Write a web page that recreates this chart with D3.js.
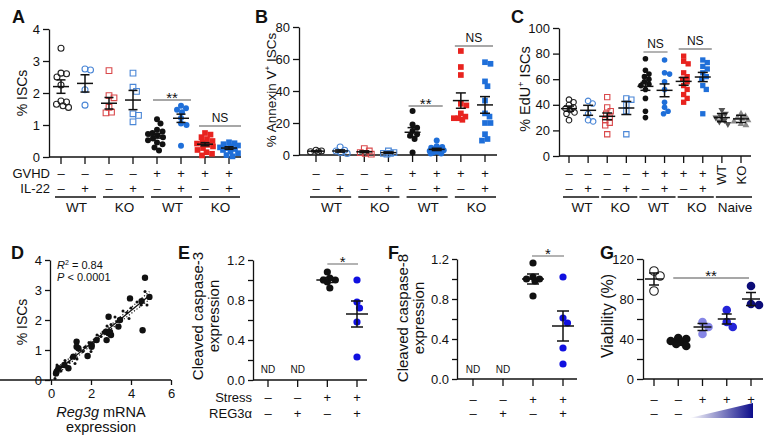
<!DOCTYPE html>
<meta charset="utf-8">
<head>
  <title>ISC panels</title>
</head>
<style>
body { margin: 0; background: #fff; }
svg text { font-family: "Liberation Sans", Arial, Helvetica, sans-serif; fill: #111; }
</style>
<body>
<svg id="chart" width="767" height="446"></svg>
<script src="https://cdnjs.cloudflare.com/ajax/libs/d3/7.8.5/d3.min.js"></script>
<script type="text/javascript">
// ---- data ----
// A: % ISCs
var aValues = [
  [3.4, 2.6, 2.62, 2.5, 2.25, 1.75, 1.72, 1.65, 1.6, 1.55],
  [2.72, 2.75, 2.1, 1.62],
  [2.7, 1.92, 1.85, 1.55, 1.4, 1.38],
  [2.62, 2.18, 2.05, 1.35, 1.3, 1.1],
  [1.18, 1.05, 0.85, 0.8, 0.75, 0.72, 0.68, 0.62, 0.58, 0.52, 0.45, 0.4, 0.3, 0.2],
  [1.6, 1.52, 1.48, 1.4, 1.22, 1.05, 1.0, 0.35],
  [0.75, 0.7, 0.62, 0.56, 0.5, 0.45, 0.42, 0.38, 0.33, 0.28, 0.22, 0.15, 0.1, 0.05],
  [0.46, 0.43, 0.4, 0.36, 0.33, 0.3, 0.28, 0.25, 0.22, 0.18, 0.12, 0.06, 0.02]
];
var aMeans = [2.2, 2.3, 1.68, 1.78, 0.66, 1.21, 0.4, 0.28];
var aSems = [0.21, 0.27, 0.18, 0.3, 0.07, 0.13, 0.05, 0.04];

// B: % Annexin V+ ISCs
var bValues = [
  [2, 2.5, 3, 2],
  [5, 2.5, 1.5, 1, 3],
  [4, 2.5, 1.5, 1, 0.5],
  [2.5, 1.5, 1, 1, 0.5],
  [27.5, 19, 17, 15, 13, 12, 10, 1.5],
  [9, 5.5, 5, 4.5, 4, 3.5, 3, 2.5, 2, 1.5, 1, 1],
  [65, 55, 50, 32, 31, 26, 24, 23, 23, 22],
  [58, 57, 46, 43, 34, 26, 24, 20, 20, 13, 10, 9]
];
var bMeans = [2.4, 2.5, 2, 1.5, 14.2, 3.5, 34, 31.3];
var bSems = [0.3, 0.7, 0.6, 0.4, 2.9, 0.7, 4.8, 5.2];

// C: % EdU+ ISCs
var cValues = [
  [44, 42, 40, 38, 37, 36, 34, 33, 28],
  [43, 41, 33, 28, 27],
  [46, 38, 35, 33, 30, 28, 26, 24, 17],
  [45, 44, 40, 35, 17],
  [76, 67, 64, 62, 60, 58, 56, 55, 52, 45, 35, 30],
  [75, 65, 64, 58, 52, 42, 38, 35, 33],
  [78, 74, 72, 65, 62, 60, 58, 55, 52, 48, 45, 42],
  [75, 73, 70, 68, 65, 62, 60, 55, 52, 33],
  [36, 33, 31, 30, 28, 27, 25],
  [33, 31, 30, 29, 28, 27, 25, 24]
];
var cMeans = [37, 35.7, 31, 37.5, 54.4, 51.3, 58.3, 61.7, 30, 29];
var cSems = [2, 3.9, 2.6, 5.1, 3.1, 5, 3, 3.6, 3.2, 2.8];

// D: Reg3g expression vs % ISCs
var dLargePts = [[4.7, 3.41], [4.92, 2.77], [3.95, 2.72], [4.53, 2.63], [2.88, 2.11], [4.58, 1.66],
  [3.37, 1.78], [3.45, 2.0], [2.75, 1.61], [2.88, 1.56], [2.78, 1.33], [2.28, 1.33], [2.03, 1.17],
  [2.03, 1.11], [1.83, 0.8], [1.28, 1.28], [1.28, 1.11], [1.37, 1.06], [1.12, 0.78], [0.87, 0.39],
  [0.67, 0.5], [0.37, 0.39], [0.28, 0.28], [0.25, 0.22], [3.0, 1.5], [2.95, 1.6]];
var dSmallPts = [[4.7, 2.95], [4.5, 2.5], [4.3, 2.6], [4.0, 2.4], [3.8, 2.25], [3.6, 2.3], [3.3, 1.95],
  [3.2, 2.1], [3.0, 1.85], [2.8, 1.8], [2.6, 1.6], [2.5, 1.45], [2.3, 1.5], [2.2, 1.3], [1.9, 1.25],
  [1.7, 1.1], [1.6, 0.95], [1.45, 1.0], [1.3, 0.7], [1.0, 0.75], [0.9, 0.6], [0.7, 0.65], [0.55, 0.45],
  [0.5, 0.3], [0.3, 0.5], [0.2, 0.05], [3.9, 2.05], [4.8, 2.5], [2.0, 0.95], [1.2, 0.55]];
var dStats = ["= 0.84", "< 0.0001"];

// E, F: cleaved caspase expression
var eValues = [[], [], [1.08, 1.02, 1.0, 1.0, 0.98, 0.92], [1.0, 0.78, 0.72, 0.58, 0.23]];
var eMeans = [null, null, 1.0, 0.66];
var eSems = [null, null, 0.025, 0.13];
var fValues = [[], [], [1.16, 1.02, 1.0, 1.0, 0.98, 0.83], [1.02, 0.61, 0.56, 0.31, 0.15]];
var fMeans = [null, null, 1.0, 0.53];
var fSems = [null, null, 0.05, 0.15];

// G: viability
var gValues = [[108, 103, 88], [41, 40, 38, 37, 35, 33], [57, 52, 45], [69, 57, 52], [93, 75, 74]];
var gMeans = [100, 38, 52, 60, 80];
var gSems = [6, 1.2, 3.5, 5, 6.5];

// row signs and labels
var gvhdSigns = ["–", "–", "–", "–", "+", "+", "+", "+"];
var il22Signs = ["–", "+", "–", "+", "–", "+", "–", "+"];
var abcGroupLabels = ["WT", "KO", "WT", "KO"];
var naiveLabels = ["WT", "KO"];
var stressSigns = ["–", "–", "+", "+"];
var regSigns = ["–", "+", "–", "+"];
var gSigns = ["–", "–", "+", "+", "+"];

// ---- styles ----
var BLK = "#111", BLUE = "#1f6fd9", RED = "#e8231f";
var abStyle = [
  {shape: "circle", fill: "none", stroke: "#222"},
  {shape: "circle", fill: "none", stroke: "#4a86d6"},
  {shape: "square", fill: "none", stroke: "#d9484a"},
  {shape: "square", fill: "none", stroke: "#4a86d6"},
  {shape: "circle", fill: BLK, stroke: "none"},
  {shape: "circle", fill: BLUE, stroke: "none"},
  {shape: "square", fill: RED, stroke: "none"},
  {shape: "square", fill: BLUE, stroke: "none"}
];
var cStyle = abStyle.concat([
  {shape: "triDown", fill: "#555", stroke: "none"},
  {shape: "triUp", fill: "#8a8a8a", stroke: "none"}
]);
var efStyle = [null, null, {shape: "circle", fill: BLK, stroke: "none"}, {shape: "circle", fill: "#1010e0", stroke: "none"}];
var gStyle = [
  {shape: "circle", fill: "none", stroke: "#222"},
  {shape: "circle", fill: BLK, stroke: "none"},
  {shape: "circle", fill: "#8585e6", stroke: "none"},
  {shape: "circle", fill: "#2424d8", stroke: "none"},
  {shape: "circle", fill: "#0c0c78", stroke: "none"}
];

var svg = d3.select("#chart");

function marker(shape, r) {
  if (shape === "circle") return d3.symbol(d3.symbolCircle, Math.PI * r * r)();
  if (shape === "square") return d3.symbol(d3.symbolSquare, 3.6 * r * r)();
  return d3.symbol(d3.symbolTriangle, 2.6 * r * r)();
}

// simple deterministic beeswarm: push each point sideways until it clears the others,
// but never further than maxW from the centre (then take the least crowded spot)
function swarm(vals, y, r, maxW) {
  var placed = [];
  var minD = 1.8 * r;
  vals.slice().sort(d3.descending).forEach(function(v) {
    var py = y(v), best = 0, bestD = -1;
    for (var k = 0; k < 400; k++) {
      var dx = (k % 2 ? 1 : -1) * Math.ceil(k / 2) * 0.5;
      if (Math.abs(dx) > maxW) break;
      var md = Infinity;
      placed.forEach(function(q) {
        var ddx = q.dx - dx, ddy = q.py - py;
        md = Math.min(md, Math.sqrt(ddx * ddx + ddy * ddy));
      });
      if (md >= minD) { best = dx; break; }
      if (md > bestD) { bestD = md; best = dx; }
    }
    placed.push({dx: best, py: py});
  });
  return placed;
}

function label(txt, x, y, size, opts) {
  opts = opts || {};
  return svg.append("text").attr("x", x).attr("y", y)
    .attr("font-size", size)
    .attr("text-anchor", opts.anchor || "middle")
    .attr("font-weight", opts.bold ? "bold" : null)
    .text(txt);
}

function rotLabel(parts, cx, cy, size) {
  var t = svg.append("text")
    .attr("transform", "translate(" + cx + "," + cy + ") rotate(-90)")
    .attr("text-anchor", "middle").attr("dy", "0.35em")
    .attr("font-size", size);
  parts.forEach(function(p) {
    var s = t.append("tspan").text(p.t);
    if (p.sup) s.attr("font-size", size * 0.6).attr("dy", -size * 0.4);
    if (p.down) s.attr("dy", size * 0.4);
    if (p.it) s.attr("font-style", "italic");
  });
  return t;
}

function styleAxis(sel, fs) {
  sel.selectAll("path, line").attr("stroke", "#111").attr("stroke-width", 1.3);
  sel.selectAll("text").attr("font-size", fs).attr("fill", "#111")
    .attr("font-family", '"Liberation Sans", Arial, sans-serif');
}

function dotPanel(p) {
  var g = svg.append("g");
  var n = p.values.length;
  var x = d3.scaleLinear().domain([0, n - 1]).range(p.xr);
  var y = d3.scaleLinear().domain(p.yd).range(p.yr);
  var base = y(p.yd[0]);

  var ya = d3.axisLeft(y).tickValues(p.ticks).tickSize(p.tickLen || 6).tickSizeOuter(0)
    .tickPadding(p.tickPad || 3)
    .tickFormat(function(d) { return p.labelled.indexOf(d) >= 0 ? p.fmt(d) : ""; });
  var yg = g.append("g").attr("transform", "translate(" + p.ax + ",0)").call(ya);
  styleAxis(yg, 13);

  g.append("line").attr("x1", p.ax).attr("x2", p.xEnd).attr("y1", base).attr("y2", base)
    .attr("stroke", "#111").attr("stroke-width", 1.3);
  g.selectAll(".xt").data(d3.range(n)).enter().append("line")
    .attr("x1", x).attr("x2", x).attr("y1", base).attr("y2", base + 7)
    .attr("stroke", "#111").attr("stroke-width", 1.3);

  p.values.forEach(function(vals, i) {
    var st = p.style[i];
    if (!vals.length) return;
    swarm(vals, y, p.r, p.maxW).forEach(function(pt) {
      g.append("path").attr("d", marker(st.shape, p.r))
        .attr("transform", "translate(" + (x(i) + pt.dx) + "," + pt.py + ")" + (st.shape === "triDown" ? " rotate(180)" : ""))
        .attr("fill", st.fill).attr("stroke", st.stroke === "none" ? null : st.stroke)
        .attr("stroke-width", 1.1);
    });
  });

  p.means.forEach(function(m, i) {
    if (m === null) return;
    var s = p.sems[i], cx = x(i);
    var lines = [
      [cx - p.mh, y(m), cx + p.mh, y(m)],
      [cx, y(m - s), cx, y(m + s)],
      [cx - p.ch, y(m - s), cx + p.ch, y(m - s)],
      [cx - p.ch, y(m + s), cx + p.ch, y(m + s)]
    ];
    lines.forEach(function(l) {
      g.append("line").attr("x1", l[0]).attr("y1", l[1]).attr("x2", l[2]).attr("y2", l[3])
        .attr("stroke", "#111").attr("stroke-width", 1.5);
    });
  });

  (p.sig || []).forEach(function(s) {
    var x1 = x(s.a) + s.l, x2 = x(s.b) + s.r;
    g.append("line").attr("x1", x1).attr("x2", x2).attr("y1", s.y).attr("y2", s.y)
      .attr("stroke", "#8a8a8a").attr("stroke-width", 1.3);
    if (s.t === "NS") label("NS", (x1 + x2) / 2, s.y - 4, 12);
    else label(s.t, (x1 + x2) / 2, s.y + 3, 15);
  });

  (p.rows || []).forEach(function(row) {
    row.signs.forEach(function(sg, i) {
      label(sg, x(i), row.y + 4.5, 13);
    });
    if (row.label) label(row.label, row.lx, row.y + 4.5, 13, {anchor: "end"});
  });

  (p.groups || []).forEach(function(gr) {
    var x1 = x(gr.a) - 6, x2 = x(gr.b) + 11;
    g.append("line").attr("x1", x1).attr("x2", x2).attr("y1", p.barY).attr("y2", p.barY)
      .attr("stroke", "#111").attr("stroke-width", 1.3);
    label(gr.t, (x1 + x2) / 2 + 1, p.barY + 15, 13.5);
  });
  return {x: x, y: y};
}

var fmt0 = d3.format("d"), fmt1 = d3.format(".1f");

// ---- A ----
dotPanel({
  values: aValues, means: aMeans, sems: aSems, style: abStyle,
  xr: [61, 229], yd: [0, 4], yr: [157, 29], ax: 49, xEnd: 241,
  ticks: [0, 1, 2, 3, 4], labelled: [0, 1, 2, 3, 4], fmt: fmt0,
  r: 3, mh: 8, ch: 4.5, maxW: 9,
  sig: [{a: 4, b: 5, l: -4, r: 10, y: 100, t: "**"}, {a: 6, b: 7, l: -6, r: 12, y: 126, t: "NS"}],
  rows: [{signs: gvhdSigns, y: 173, label: "GVHD", lx: 50}, {signs: il22Signs, y: 188, label: "IL-22", lx: 50}],
  barY: 197,
  groups: [{a: 0, b: 1, t: abcGroupLabels[0]}, {a: 2, b: 3, t: abcGroupLabels[1]}, {a: 4, b: 5, t: abcGroupLabels[2]}, {a: 6, b: 7, t: abcGroupLabels[3]}]
});
label("A", 12, 23, 18, {anchor: "start", bold: true});
rotLabel([{t: "% ISCs"}], 22, 93, 14);

// ---- B ----
dotPanel({
  values: bValues, means: bMeans, sems: bSems, style: abStyle,
  xr: [316, 485], yd: [0, 80], yr: [155, 27], ax: 299, xEnd: 497,
  ticks: [0, 20, 40, 60, 80], labelled: [0, 20, 40, 60, 80], fmt: fmt0,
  r: 3, mh: 8, ch: 5, maxW: 7,
  sig: [{a: 4, b: 5, l: -4, r: 6, y: 106, t: "**"}, {a: 6, b: 7, l: -6, r: 8, y: 46, t: "NS"}],
  rows: [{signs: gvhdSigns, y: 173}, {signs: il22Signs, y: 188}],
  barY: 197,
  groups: [{a: 0, b: 1, t: abcGroupLabels[0]}, {a: 2, b: 3, t: abcGroupLabels[1]}, {a: 4, b: 5, t: abcGroupLabels[2]}, {a: 6, b: 7, t: abcGroupLabels[3]}]
});
label("B", 255, 23, 18, {anchor: "start", bold: true});
rotLabel([{t: "% Annexin V"}, {t: "+", sup: true}, {t: " ISCs", down: true}], 271, 90, 13.5);

// ---- C ----
var cx = dotPanel({
  values: cValues, means: cMeans, sems: cSems, style: cStyle,
  xr: [569, 741], yd: [0, 100], yr: [156, 28], ax: 559, xEnd: 751,
  ticks: [0, 20, 40, 60, 80, 100], labelled: [0, 20, 40, 60, 80, 100], fmt: fmt0,
  r: 2.8, mh: 8, ch: 5, maxW: 7,
  sig: [{a: 4, b: 5, l: -2, r: 3, y: 52, t: "NS"}, {a: 6, b: 7, l: -5, r: 9, y: 49, t: "NS"}],
  rows: [{signs: gvhdSigns, y: 173}, {signs: il22Signs, y: 188}],
  barY: 197,
  groups: [{a: 0, b: 1, t: abcGroupLabels[0]}, {a: 2, b: 3, t: abcGroupLabels[1]}, {a: 4, b: 5, t: abcGroupLabels[2]}, {a: 6, b: 7, t: abcGroupLabels[3]}, {a: 8, b: 9, t: "Naive"}]
}).x;
naiveLabels.forEach(function(t, i) { rotLabel([{t: t}], cx(8 + i), 175, 13); });
label("C", 511, 23, 18, {anchor: "start", bold: true});
rotLabel([{t: "% EdU"}, {t: "+", sup: true}, {t: " ISCs", down: true}], 525, 89, 14.5);

// ---- D ----
(function() {
  var x = d3.scaleLinear().domain([0, 6]).range([51, 171]);
  var y = d3.scaleLinear().domain([0, 4]).range([380, 260]);
  var g = svg.append("g");
  var ya = g.append("g").attr("transform", "translate(50,0)")
    .call(d3.axisLeft(y).ticks(4).tickSize(5).tickSizeOuter(0).tickPadding(3).tickFormat(fmt0));
  var xa = g.append("g").attr("transform", "translate(0,380)")
    .call(d3.axisBottom(x).tickValues([0, 2, 4, 6]).tickSize(5).tickSizeOuter(0).tickPadding(4).tickFormat(fmt0));
  styleAxis(ya, 13); styleAxis(xa, 13);
  xa.select(".domain").attr("d", "M-1,0H171");

  var all = dLargePts.concat(dSmallPts);
  var n = all.length;
  var mx = d3.mean(all, function(d) { return d[0]; }), my = d3.mean(all, function(d) { return d[1]; });
  var sxx = d3.sum(all, function(d) { return (d[0] - mx) * (d[0] - mx); });
  var sxy = d3.sum(all, function(d) { return (d[0] - mx) * (d[1] - my); });
  var b = sxy / sxx, a = my - b * mx;
  var s = Math.sqrt(d3.sum(all, function(d) { var e = d[1] - a - b * d[0]; return e * e; }) / (n - 2));
  var xmin = d3.min(all, function(d) { return d[0]; }), xmax = d3.max(all, function(d) { return d[0]; });
  var xs = d3.range(0, 41).map(function(k) { return xmin + (xmax - xmin) * k / 40; });
  function ci(xv) { return 2.0 * s * Math.sqrt(1 / n + (xv - mx) * (xv - mx) / sxx); }
  [-1, 1].forEach(function(sgn) {
    g.append("path")
      .attr("d", d3.line().x(function(v) { return x(v); }).y(function(v) { return y(a + b * v + sgn * ci(v)); })(xs))
      .attr("fill", "none").attr("stroke", "#111").attr("stroke-width", 1.2).attr("stroke-dasharray", "1.2,2");
  });
  g.selectAll(".sm").data(dSmallPts).enter().append("circle")
    .attr("cx", function(d) { return x(d[0]); }).attr("cy", function(d) { return y(d[1]); })
    .attr("r", 1.5).attr("fill", "#111");
  g.selectAll(".lg").data(dLargePts).enter().append("circle")
    .attr("cx", function(d) { return x(d[0]); }).attr("cy", function(d) { return y(d[1]); })
    .attr("r", 3.2).attr("fill", "#111");
  g.append("line").attr("x1", x(xmin)).attr("y1", y(a + b * xmin)).attr("x2", x(xmax)).attr("y2", y(a + b * xmax))
    .attr("stroke", "#111").attr("stroke-width", 1.3);

  var t1 = svg.append("text").attr("x", 57).attr("y", 269).attr("font-size", 11);
  t1.append("tspan").attr("font-style", "italic").text("R");
  t1.append("tspan").attr("font-size", 7).attr("dy", -4).text("2");
  t1.append("tspan").attr("dy", 4).text(" " + dStats[0]);
  var t2 = svg.append("text").attr("x", 57).attr("y", 281).attr("font-size", 11);
  t2.append("tspan").attr("font-style", "italic").text("P");
  t2.append("tspan").text(" " + dStats[1]);

  var xl = svg.append("text").attr("x", 101).attr("y", 417).attr("text-anchor", "middle").attr("font-size", 14.5);
  xl.append("tspan").attr("font-style", "italic").text("Reg3g");
  xl.append("tspan").text(" mRNA");
  label("expression", 101, 432, 14.5);
  rotLabel([{t: "% ISCs"}], 22, 322, 14);
  label("D", 11, 259, 18, {anchor: "start", bold: true});
})();

// ---- E ----
var ex = dotPanel({
  values: eValues, means: eMeans, sems: eSems, style: efStyle,
  xr: [268, 357], yd: [0, 1.2], yr: [380, 260], ax: 253, xEnd: 367,
  ticks: [0, 0.2, 0.4, 0.6, 0.8, 1, 1.2], labelled: [0, 0.4, 0.8, 1.2], fmt: fmt1,
  tickLen: 5, tickPad: 3,
  r: 3.6, mh: 11, ch: 6, maxW: 8,
  sig: [{a: 2, b: 3, l: 0, r: 1, y: 264, t: "*"}],
  rows: [{signs: stressSigns, y: 397, label: "Stress", lx: 252}, {signs: regSigns, y: 413, label: "REG3α", lx: 252}]
}).x;
[0, 1].forEach(function(i) { label("ND", ex(i), 373, 10); });
label("E", 178, 259, 18, {anchor: "start", bold: true});
rotLabel([{t: "Cleaved caspase-3"}], 198, 316, 15);
rotLabel([{t: "expression"}], 214, 316, 15);

// ---- F ----
var fx = dotPanel({
  values: fValues, means: fMeans, sems: fSems, style: efStyle,
  xr: [473, 563], yd: [0, 1.2], yr: [379, 259], ax: 457, xEnd: 577,
  ticks: [0, 0.2, 0.4, 0.6, 0.8, 1, 1.2], labelled: [0, 0.4, 0.8, 1.2], fmt: fmt1,
  tickLen: 5, tickPad: 3,
  r: 3.6, mh: 11, ch: 6, maxW: 8,
  sig: [{a: 2, b: 3, l: -1, r: 1, y: 256, t: "*"}],
  rows: [{signs: stressSigns, y: 399}, {signs: regSigns, y: 413}]
}).x;
[0, 1].forEach(function(i) { label("ND", fx(i), 373, 10); });
label("F", 388, 259, 18, {anchor: "start", bold: true});
rotLabel([{t: "Cleaved caspase-8"}], 403, 318, 15);
rotLabel([{t: "expression"}], 419, 318, 15);

// ---- G ----
var gx = dotPanel({
  values: gValues, means: gMeans, sems: gSems, style: gStyle,
  xr: [654, 751], yd: [0, 120], yr: [379, 259], ax: 643, xEnd: 763,
  ticks: [0, 20, 40, 60, 80, 100, 120], labelled: [0, 40, 80, 120], fmt: fmt0,
  tickLen: 6, tickPad: 3,
  r: 4.3, mh: 9, ch: 5, maxW: 8,
  sig: [{a: 1, b: 4, l: -5, r: -2, y: 278, t: "**"}],
  rows: [{signs: gSigns, y: 399}, {signs: gSigns.slice(0, 2), y: 413}]
}).x;
var grad = svg.append("defs").append("linearGradient").attr("id", "ramp")
  .attr("x1", "0%").attr("x2", "100%").attr("y1", "0%").attr("y2", "0%");
grad.append("stop").attr("offset", "0%").attr("stop-color", "#ffffff");
grad.append("stop").attr("offset", "100%").attr("stop-color", "#0c0c8a");
svg.append("path")
  .attr("d", "M" + (gx(2) - 13) + ",418L" + (gx(4) + 2) + ",418L" + (gx(4) + 2) + ",403Z")
  .attr("fill", "url(#ramp)");
label("G", 600, 259, 18, {anchor: "start", bold: true});
rotLabel([{t: "Viability (%)"}], 607, 316, 16);
</script>
</body>
</html>
